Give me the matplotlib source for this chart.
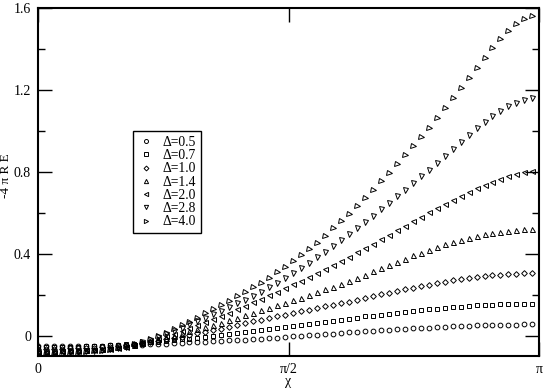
import numpy as np
import matplotlib
matplotlib.use("Agg")
import matplotlib.pyplot as plt
from matplotlib.ticker import MultipleLocator, FixedLocator

plt.rcParams['font.family'] = ['Liberation Serif', 'DejaVu Serif']

# chi grid: 0, 0.05, ..., 3.10
chi = np.round(np.arange(63) * 0.05, 2)

e_05 = [-0.052, -0.052, -0.052, -0.051, -0.051, -0.051, -0.050, -0.050, -0.049, -0.048,
        -0.047, -0.046, -0.045, -0.044, -0.042, -0.041, -0.040, -0.038, -0.036, -0.034,
        -0.033, -0.031, -0.029, -0.026, -0.024, -0.022, -0.020, -0.017, -0.015, -0.012,
        -0.010, -0.007, -0.004, -0.002, 0.001, 0.004, 0.006, 0.009, 0.012, 0.015,
        0.017, 0.020, 0.023, 0.025, 0.028, 0.030, 0.032, 0.035, 0.037, 0.039,
        0.041, 0.043, 0.045, 0.046, 0.048, 0.049, 0.050, 0.051, 0.052, 0.053,
        0.053, 0.054, 0.054]
e_07 = [-0.058, -0.058, -0.057, -0.057, -0.056, -0.055, -0.053, -0.052, -0.050, -0.047,
        -0.045, -0.042, -0.040, -0.037, -0.033, -0.030, -0.026, -0.023, -0.019, -0.015,
        -0.010, -0.006, -0.002, 0.003, 0.007, 0.012, 0.017, 0.022, 0.027, 0.032,
        0.037, 0.042, 0.047, 0.052, 0.057, 0.062, 0.067, 0.073, 0.078, 0.083,
        0.088, 0.093, 0.097, 0.102, 0.107, 0.111, 0.116, 0.120, 0.124, 0.128,
        0.131, 0.135, 0.138, 0.141, 0.144, 0.147, 0.149, 0.151, 0.152, 0.154,
        0.155, 0.155, 0.156]
e_10 = [-0.065, -0.065, -0.065, -0.064, -0.063, -0.062, -0.061, -0.059, -0.057, -0.055,
        -0.052, -0.048, -0.043, -0.038, -0.032, -0.026, -0.019, -0.012, -0.005, 0.002,
        0.010, 0.018, 0.026, 0.034, 0.043, 0.052, 0.061, 0.070, 0.078, 0.086,
        0.094, 0.102, 0.110, 0.118, 0.126, 0.134, 0.142, 0.150, 0.158, 0.166,
        0.175, 0.184, 0.193, 0.201, 0.209, 0.217, 0.225, 0.233, 0.241, 0.249,
        0.256, 0.263, 0.269, 0.275, 0.280, 0.285, 0.290, 0.294, 0.298, 0.301,
        0.303, 0.305, 0.306]
e_14 = [-0.075, -0.075, -0.074, -0.073, -0.072, -0.071, -0.069, -0.067, -0.065, -0.062,
        -0.057, -0.051, -0.044, -0.036, -0.028, -0.019, -0.010, 0.000, 0.010, 0.020,
        0.030, 0.041, 0.052, 0.063, 0.075, 0.087, 0.099, 0.111, 0.123, 0.135,
        0.147, 0.159, 0.172, 0.185, 0.198, 0.211, 0.225, 0.239, 0.253, 0.268,
        0.283, 0.298, 0.314, 0.330, 0.346, 0.361, 0.376, 0.391, 0.405, 0.419,
        0.432, 0.445, 0.457, 0.468, 0.478, 0.487, 0.495, 0.502, 0.508, 0.513,
        0.516, 0.518, 0.519]
e_20 = [-0.080, -0.080, -0.079, -0.078, -0.077, -0.075, -0.073, -0.071, -0.068, -0.065,
        -0.060, -0.054, -0.046, -0.037, -0.027, -0.016, -0.004, 0.009, 0.022, 0.035,
        0.049, 0.064, 0.079, 0.095, 0.111, 0.128, 0.145, 0.163, 0.180, 0.197,
        0.214, 0.232, 0.250, 0.268, 0.287, 0.306, 0.325, 0.345, 0.365, 0.385,
        0.406, 0.427, 0.449, 0.471, 0.493, 0.515, 0.537, 0.559, 0.581, 0.603,
        0.624, 0.644, 0.664, 0.683, 0.701, 0.719, 0.736, 0.752, 0.767, 0.780,
        0.791, 0.799, 0.804]
e_28 = [-0.085, -0.085, -0.084, -0.083, -0.082, -0.080, -0.078, -0.075, -0.072, -0.068,
        -0.062, -0.054, -0.045, -0.034, -0.022, -0.009, 0.006, 0.022, 0.039, 0.055,
        0.071, 0.088, 0.105, 0.122, 0.140, 0.158, 0.176, 0.195, 0.215, 0.236,
        0.258, 0.281, 0.305, 0.330, 0.356, 0.382, 0.409, 0.437, 0.466, 0.495,
        0.525, 0.555, 0.586, 0.617, 0.648, 0.680, 0.712, 0.744, 0.777, 0.810,
        0.844, 0.878, 0.912, 0.945, 0.979, 1.012, 1.043, 1.072, 1.098, 1.120,
        1.137, 1.150, 1.159]
e_40 = [-0.090, -0.090, -0.089, -0.088, -0.086, -0.084, -0.081, -0.078, -0.074, -0.069,
        -0.062, -0.053, -0.043, -0.031, -0.018, -0.003, 0.013, 0.030, 0.049, 0.068,
        0.088, 0.108, 0.129, 0.150, 0.171, 0.192, 0.214, 0.236, 0.259, 0.283,
        0.308, 0.334, 0.362, 0.391, 0.422, 0.454, 0.488, 0.523, 0.559, 0.596,
        0.634, 0.673, 0.713, 0.754, 0.796, 0.839, 0.882, 0.926, 0.970, 1.015,
        1.062, 1.110, 1.159, 1.208, 1.258, 1.308, 1.356, 1.403, 1.448, 1.488,
        1.521, 1.546, 1.562]

series = [e_05, e_07, e_10, e_14, e_20, e_28, e_40]
labels = ['Δ=0.5', 'Δ=0.7', 'Δ=1.0', 'Δ=1.4', 'Δ=2.0', 'Δ=2.8', 'Δ=4.0']
markers = ['o', 's', 'D', '^', '<', 'v', '>']
msizes = [3.4, 3.1, 2.9, 3.6, 3.6, 3.6, 3.6]

y_ticks = [0, 0.4, 0.8, 1.2, 1.6]
y_ticklabels = ['0', '0.4', '0.8', '1.2', '1.6']
x_ticks = [0, np.pi / 2, np.pi]
x_ticklabels = ['0', 'π/2', 'π']

fig = plt.figure(figsize=(5.45, 3.88), dpi=100)
ax = fig.add_axes([38 / 545, 1 - 356 / 388, 501 / 545, 348 / 388])

for y, lab, m, ms in zip(series, labels, markers, msizes):
    ax.plot(chi, y, linestyle='none', marker=m, markersize=ms,
            markerfacecolor='none', markeredgecolor='black',
            markeredgewidth=0.7, label=lab)

ax.set_xlim(0, np.pi)
ax.set_ylim(-0.1, 1.6)
ax.xaxis.set_major_locator(FixedLocator(x_ticks))
ax.set_xticklabels(x_ticklabels)
ax.set_yticks(y_ticks)
ax.set_yticklabels(y_ticklabels)
ax.yaxis.set_minor_locator(MultipleLocator(0.2))

ax.tick_params(which='both', direction='in', top=True, right=True,
               labelsize=10, width=1.0, pad=5)
ax.tick_params(which='major', length=10)
ax.tick_params(which='minor', length=5)
for sp in ax.spines.values():
    sp.set_linewidth(1.5)

ax.set_xlabel('χ', fontsize=10, labelpad=-1)
ax.set_ylabel('-4 π R E', fontsize=9.5)
ax.yaxis.set_label_coords((12 - 38) / 501, (356 - 176) / 348)

leg = ax.legend(loc='upper left', bbox_to_anchor=((133 - 38) / 501, (356 - 131) / 348),
                borderaxespad=0, fontsize=9.8, handlelength=1.2, handletextpad=0.6,
                labelspacing=0.02, borderpad=0.35, fancybox=False, framealpha=1,
                markerscale=0.85)
leg.get_frame().set_edgecolor('black')
leg.get_frame().set_linewidth(1.0)

fig.savefig('out.png', dpi=100)
